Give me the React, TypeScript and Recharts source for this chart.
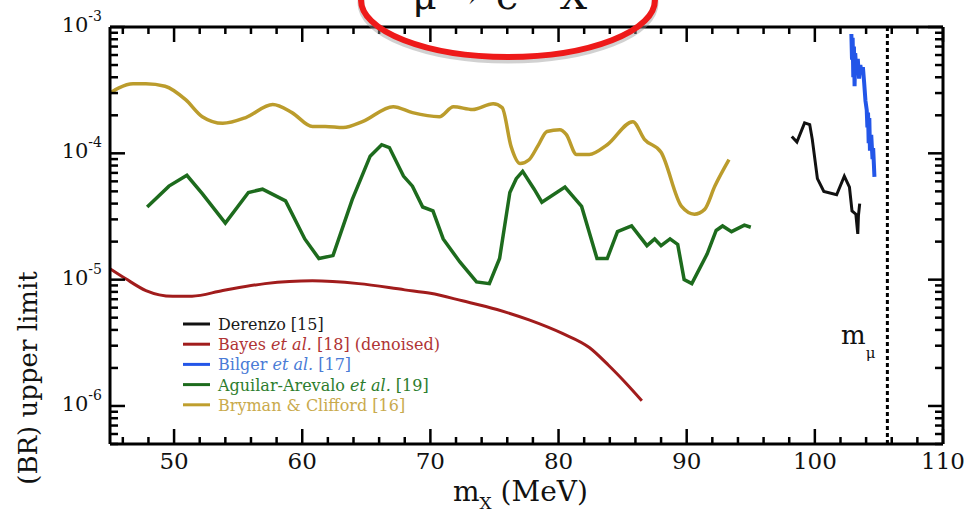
import React from 'react';
import { LineChart, Line, XAxis, YAxis, ReferenceLine } from 'recharts';

// m_X (MeV) and BR upper limits
const derenzoMass = [98.2, 98.6, 99.2, 99.6, 99.8, 100.2, 100.7, 101.7, 102.3, 102.7, 102.9, 103.2, 103.35, 103.4, 103.5];
const derenzoBR = [1.36e-4, 1.23e-4, 1.74e-4, 1.69e-4, 1.29e-4, 6.3e-5, 5.0e-5, 4.7e-5, 6.6e-5, 5.4e-5, 3.5e-5, 3.3e-5, 2.3e-5, 3.2e-5, 4.0e-5];

const bayesMass = [45.0, 46.2, 47.8, 49.9, 51.4, 53.8, 57.1, 60.8, 64.4, 68.0, 70.0, 72.5, 75.2, 77.7, 80.3, 82.4, 83.9, 85.3, 86.5];
const bayesBR = [1.22e-5, 1.02e-5, 8.2e-6, 7.4e-6, 7.4e-6, 8.2e-6, 9.3e-6, 9.8e-6, 9.3e-6, 8.3e-6, 7.8e-6, 6.8e-6, 5.8e-6, 4.8e-6, 3.75e-6, 2.9e-6, 2.1e-6, 1.5e-6, 1.1e-6];

const bilgerMass = [102.85, 102.9, 102.95, 103.0, 103.05, 103.1, 103.15, 103.25, 103.35, 103.45, 103.55, 103.65, 103.75, 103.85, 103.95, 104.05, 104.1, 104.15, 104.2, 104.25, 104.3, 104.4, 104.5, 104.55, 104.65];
const bilgerBR = [8.8e-4, 5.5e-4, 8.2e-4, 4.0e-4, 7.0e-4, 3.4e-4, 6.2e-4, 4.2e-4, 5.6e-4, 3.9e-4, 5.0e-4, 4.3e-4, 4.8e-4, 3.6e-4, 2.6e-4, 2.2e-4, 1.6e-4, 2.1e-4, 1.2e-4, 1.9e-4, 1.05e-4, 1.4e-4, 9e-5, 1.1e-4, 6.5e-5];

const aguilarMass = [47.9, 49.6, 51.0, 52.2, 54.0, 55.8, 56.9, 58.7, 60.2, 61.3, 62.4, 63.9, 65.3, 66.2, 66.8, 67.9, 68.6, 69.4, 70.2, 71.0, 72.3, 73.6, 74.6, 75.4, 76.2, 76.7, 77.2, 78.1, 78.7, 80.5, 81.8, 83.0, 83.8, 84.6, 85.7, 86.9, 87.5, 88.0, 88.7, 89.3, 89.8, 90.4, 91.6, 92.3, 92.8, 93.5, 94.5, 95.0];
const aguilarBR = [3.76e-5, 5.5e-5, 6.7e-5, 4.8e-5, 2.8e-5, 4.9e-5, 5.2e-5, 4.2e-5, 2.1e-5, 1.47e-5, 1.55e-5, 4.3e-5, 9.5e-5, 1.17e-4, 1.11e-4, 6.6e-5, 5.5e-5, 3.76e-5, 3.5e-5, 2.1e-5, 1.38e-5, 9.6e-6, 9.3e-6, 1.47e-5, 4.9e-5, 6.3e-5, 7.2e-5, 5.2e-5, 4.1e-5, 5.4e-5, 3.8e-5, 1.47e-5, 1.47e-5, 2.4e-5, 2.66e-5, 1.86e-5, 2.1e-5, 1.86e-5, 2.1e-5, 1.9e-5, 1.0e-5, 9.3e-6, 1.6e-5, 2.45e-5, 2.66e-5, 2.4e-5, 2.7e-5, 2.6e-5];

const brymanMass = [45.0, 45.7, 46.8, 47.8, 49.3, 50.9, 52.2, 53.8, 55.6, 57.7, 59.2, 60.8, 61.8, 63.2, 64.7, 67.1, 68.6, 70.7, 71.8, 73.3, 74.9, 75.6, 76.3, 77.0, 77.7, 78.4, 79.1, 80.1, 80.6, 81.4, 82.4, 83.8, 85.8, 86.7, 88.0, 89.6, 90.6, 91.4, 92.2, 93.3];
const brymanBR = [3.0e-4, 3.3e-4, 3.55e-4, 3.56e-4, 3.4e-4, 2.66e-4, 1.95e-4, 1.73e-4, 1.92e-4, 2.43e-4, 2.1e-4, 1.63e-4, 1.63e-4, 1.6e-4, 1.78e-4, 2.34e-4, 2.1e-4, 1.95e-4, 2.34e-4, 2.22e-4, 2.47e-4, 2.3e-4, 1.13e-4, 8.3e-5, 8.9e-5, 1.15e-4, 1.49e-4, 1.54e-4, 1.41e-4, 9.8e-5, 9.8e-5, 1.17e-4, 1.78e-4, 1.29e-4, 1.02e-4, 3.8e-5, 3.3e-5, 3.6e-5, 5.5e-5, 8.9e-5];

const muonMass = 105.66;

const xTicks = [46, 48, 50, 52, 54, 56, 58, 60, 62, 64, 66, 68, 70, 72, 74, 76, 78, 80, 82, 84, 86, 88, 90, 92, 94, 96, 98, 100, 102, 104, 106, 108, 110];
const yDecades = [1e-7, 1e-6, 1e-5, 1e-4, 1e-3];
const yMultipliers = [1, 2, 3, 4, 5, 6, 7, 8, 9];

const legendLabels = [
  [['Derenzo [15]', false]],
  [['Bayes ', false], ['et al.', true], [' [18] (denoised)', false]],
  [['Bilger ', false], ['et al.', true], [' [17]', false]],
  [['Aguilar-Arevalo ', false], ['et al.', true], [' [19]', false]],
  [['Bryman & Clifford [16]', false]],
] as [string, boolean][][];
const legendLineColors = ['#111111', '#a11c1c', '#2356e8', '#1d6b1d', '#bf9f2e'];
const legendTextColors = ['#1a1a1a', '#b03434', '#4a7bd6', '#2d7d2d', '#c9aa4c'];

const Y_MIN = 5e-7;
const Y_MAX = 1e-3;
const FONT = '"DejaVu Serif", serif';
const GAP = 6;

const zip = (xs: number[], ys: number[]) => xs.map((x, i) => ({ x, y: ys[i] }));

const yTicks = yDecades
  .flatMap((d) => yMultipliers.map((m) => m * d))
  .filter((v) => v >= Y_MIN * 0.999 && v <= Y_MAX * 1.001);

const isMajorY = (v: number) => {
  const e = Math.round(Math.log10(v));
  return Math.abs(v / Math.pow(10, e) - 1) < 1e-6;
};

const LeftTick = (props: any) => {
  const { x, y, payload } = props;
  const v = payload.value;
  const major = isMajorY(v);
  const ax = x + GAP;
  const e = Math.round(Math.log10(v));
  return (
    <g>
      <line x1={ax} x2={ax + (major ? 15 : 8)} y1={y} y2={y} stroke="#000" strokeWidth={2.5} />
      {major && (
        <text x={x - 2} y={y + 5} textAnchor="end" fontFamily={FONT} fontSize={21} fill="#111">
          <tspan>10</tspan>
          <tspan dy={-11} fontSize={14}>{e}</tspan>
        </text>
      )}
    </g>
  );
};

const RightTick = (props: any) => {
  const { x, y, payload } = props;
  const major = isMajorY(payload.value);
  const ax = x - GAP;
  return <line x1={ax} x2={ax - (major ? 15 : 8)} y1={y} y2={y} stroke="#000" strokeWidth={2.5} />;
};

const BottomTick = (props: any) => {
  const { x, y, payload } = props;
  const major = payload.value % 10 === 0;
  const ay = y - GAP;
  return (
    <g>
      <line x1={x} x2={x} y1={ay} y2={ay - (major ? 15 : 7)} stroke="#000" strokeWidth={2.5} />
      {major && (
        <text x={x} y={ay + 25} textAnchor="middle" fontFamily={FONT} fontSize={23} fill="#111">
          {payload.value}
        </text>
      )}
    </g>
  );
};

const TopTick = (props: any) => {
  const { x, y, payload } = props;
  const major = payload.value % 10 === 0;
  const ay = y + GAP;
  return <line x1={x} x2={x} y1={ay} y2={ay + (major ? 15 : 7)} stroke="#000" strokeWidth={2.5} />;
};

const MuLabel = (props: any) => {
  const vb = props.viewBox;
  return (
    <text x={vb.x - 12} y={vb.y + vb.height * 0.76} textAnchor="end" fontFamily={FONT} fontSize={26} fill="#111">
      <tspan>m</tspan>
      <tspan dy={14} fontSize={15}>μ</tspan>
    </text>
  );
};

export default function App() {
  const axisLine = { stroke: '#000', strokeWidth: 3 };
  return (
    <div style={{ position: 'absolute', left: 0, top: 0, width: 972, height: 516, background: '#fff' }}>
      <LineChart width={972} height={516} margin={{ top: 0, right: 0, bottom: 0, left: 0 }}>
        <XAxis dataKey="x" type="number" domain={[45, 110]} allowDataOverflow ticks={xTicks} interval={0}
          tickSize={0} tickMargin={GAP} height={72} axisLine={axisLine} tickLine={false} tick={BottomTick} />
        <XAxis xAxisId="top" orientation="top" dataKey="x" type="number" domain={[45, 110]} allowDataOverflow ticks={xTicks}
          interval={0} tickSize={0} tickMargin={GAP} height={27} axisLine={axisLine} tickLine={false} tick={TopTick} />
        <YAxis type="number" scale="log" domain={[Y_MIN, Y_MAX]} allowDataOverflow ticks={yTicks} interval={0}
          tickSize={0} tickMargin={GAP} width={110} axisLine={axisLine} tickLine={false} tick={LeftTick} />
        <YAxis yAxisId="right" orientation="right" type="number" scale="log" domain={[Y_MIN, Y_MAX]} allowDataOverflow
          ticks={yTicks} interval={0} tickSize={0} tickMargin={GAP} width={29} axisLine={axisLine} tickLine={false} tick={RightTick} />
        <ReferenceLine x={muonMass} stroke="#000" strokeWidth={3} strokeDasharray="4 3" label={MuLabel} />
        <Line data={zip(brymanMass, brymanBR)} dataKey="y" type="monotone" stroke="#bb9c2c" strokeWidth={3.5} dot={false} isAnimationActive={false} />
        <Line data={zip(aguilarMass, aguilarBR)} dataKey="y" type="linear" stroke="#1d6b1d" strokeWidth={3.5} dot={false} isAnimationActive={false} />
        <Line data={zip(bayesMass, bayesBR)} dataKey="y" type="monotone" stroke="#a11c1c" strokeWidth={3} dot={false} isAnimationActive={false} />
        <Line data={zip(derenzoMass, derenzoBR)} dataKey="y" type="linear" stroke="#111111" strokeWidth={3} dot={false} isAnimationActive={false} />
        <Line data={zip(bilgerMass, bilgerBR)} dataKey="y" type="linear" stroke="#2356e8" strokeWidth={4} dot={false} isAnimationActive={false} />
      </LineChart>
      <svg width={972} height={516} style={{ position: 'absolute', left: 0, top: 0, pointerEvents: 'none' }}>
        <ellipse cx={508} cy={3} rx={147} ry={57} fill="none" stroke="#9a9a9a" strokeOpacity={0.45} strokeWidth={7} />
        <text y={9} fontFamily={FONT} fontSize={38} fill="#111">
          <tspan x={412}>μ</tspan>
          <tspan x={447}>→</tspan>
          <tspan x={496}>e</tspan>
          <tspan x={560}>X</tspan>
        </text>
        <ellipse cx={508} cy={0} rx={147} ry={57} fill="none" stroke="#ee1a1a" strokeWidth={6} />
        <text x={28} y={378} transform="rotate(-90 28 378)" textAnchor="middle" dominantBaseline="central"
          fontFamily={FONT} fontSize={26} fill="#111">
          (BR) upper limit
        </text>
        <text x={453} y={501} fontFamily={FONT} fontSize={28} fill="#111" style={{ whiteSpace: 'pre' }}>
          <tspan>m</tspan>
          <tspan dy={8} fontSize={17}>X</tspan>
          <tspan dy={-8}> (MeV)</tspan>
        </text>
        {legendLabels.map((parts, i) => (
          <g key={i}>
            <line x1={183} x2={210} y1={324 + i * 20.2} y2={324 + i * 20.2} stroke={legendLineColors[i]} strokeWidth={3} />
            <text x={218} y={330 + i * 20.2} fontFamily={FONT} fontSize={16} fill={legendTextColors[i]} style={{ whiteSpace: 'pre' }}>
              {parts.map(([t, it], j) => (
                <tspan key={j} fontStyle={it ? 'italic' : 'normal'}>{t}</tspan>
              ))}
            </text>
          </g>
        ))}
      </svg>
    </div>
  );
}
